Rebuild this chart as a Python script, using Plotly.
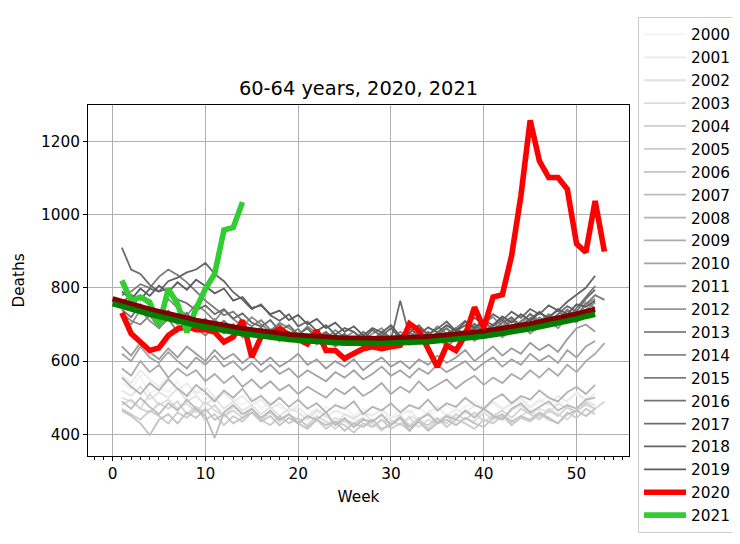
import plotly.graph_objects as go

TITLE = "60-64 years, 2020, 2021"
years_gray = list(range(2000, 2020))

d2000 = [540, 525, 560, 510, 530, 515, 545, 500, 520, 505, 490, 510, 495, 480, 500, 470, 490, 475, 460, 485, 470, 455, 475, 460, 480, 450, 470, 455, 465, 445, 470, 460, 475, 450, 465, 480, 460, 475, 490, 470, 485, 465, 480, 495, 470, 490, 505, 480, 495, 510, 490, 500]
d2001 = [560, 540, 575, 550, 530, 555, 520, 540, 510, 530, 500, 515, 490, 505, 480, 495, 470, 485, 460, 475, 450, 470, 445, 465, 455, 440, 460, 450, 470, 445, 455, 465, 440, 460, 475, 450, 470, 455, 480, 465, 490, 470, 485, 500, 475, 495, 480, 505, 490, 515, 495, 510]
d2002 = [520, 505, 530, 495, 515, 500, 525, 490, 505, 480, 500, 470, 490, 465, 480, 455, 475, 450, 470, 460, 440, 465, 450, 430, 455, 445, 460, 435, 450, 440, 425, 450, 440, 460, 435, 455, 445, 465, 450, 470, 455, 440, 465, 480, 455, 470, 460, 485, 470, 460, 490, 480]
d2003 = [500, 490, 470, 510, 480, 495, 470, 485, 460, 490, 465, 450, 475, 455, 470, 445, 460, 440, 455, 430, 450, 440, 425, 445, 435, 420, 440, 430, 410, 435, 425, 445, 420, 440, 430, 450, 425, 445, 435, 460, 440, 455, 430, 450, 465, 445, 470, 455, 440, 465, 480, 470]
d2004 = [480, 495, 470, 460, 485, 470, 490, 455, 475, 460, 480, 450, 465, 445, 470, 440, 460, 435, 455, 440, 425, 450, 435, 415, 440, 430, 445, 420, 440, 430, 450, 425, 445, 415, 440, 430, 455, 440, 460, 435, 450, 465, 445, 470, 455, 440, 465, 450, 475, 460, 485, 470, 489]
d2005 = [470, 455, 440, 465, 450, 430, 460, 445, 470, 440, 455, 425, 450, 435, 460, 440, 425, 450, 430, 445, 420, 440, 415, 435, 425, 405, 430, 420, 440, 415, 430, 410, 435, 425, 445, 420, 440, 430, 415, 440, 430, 450, 425, 445, 435, 455, 440, 430, 460, 445, 470, 455]
d2006 = [465, 450, 430, 398, 440, 455, 430, 460, 445, 470, 440, 455, 430, 445, 460, 435, 450, 425, 445, 430, 415, 440, 425, 435, 410, 430, 420, 440, 415, 425, 445, 420, 435, 410, 430, 440, 425, 445, 430, 420, 445, 455, 435, 450, 440, 460, 445, 430, 455, 465, 450, 470]
d2007 = [490, 470, 500, 475, 455, 485, 465, 495, 470, 450, 390, 460, 480, 455, 470, 445, 465, 440, 455, 430, 450, 440, 460, 425, 445, 420, 440, 435, 455, 425, 445, 410, 440, 455, 430, 450, 440, 465, 445, 470, 450, 440, 470, 485, 460, 475, 490, 465, 480, 470, 495, 500]
d2008 = [555, 530, 510, 540, 520, 550, 525, 505, 535, 515, 490, 520, 500, 525, 490, 505, 480, 500, 475, 495, 470, 485, 460, 480, 470, 490, 455, 475, 465, 485, 460, 480, 470, 495, 465, 485, 475, 500, 480, 470, 495, 510, 485, 505, 495, 520, 500, 490, 515, 530, 510, 535]
d2009 = [580, 560, 600, 570, 590, 555, 580, 560, 575, 545, 565, 540, 560, 530, 550, 525, 545, 520, 535, 510, 530, 515, 500, 525, 510, 530, 505, 520, 540, 510, 530, 515, 545, 520, 535, 550, 525, 545, 560, 535, 555, 540, 565, 550, 575, 555, 580, 560, 590, 570, 600, 620, 649]
d2010 = [620, 600, 640, 610, 595, 625, 600, 580, 610, 590, 615, 585, 600, 575, 595, 570, 590, 565, 580, 555, 575, 560, 545, 570, 555, 575, 550, 565, 585, 560, 575, 555, 580, 565, 590, 570, 585, 600, 575, 595, 610, 585, 605, 590, 620, 600, 615, 595, 630, 610, 640, 655]
d2011 = [640, 615, 650, 625, 605, 635, 610, 640, 620, 600, 630, 605, 620, 595, 615, 590, 610, 585, 600, 620, 590, 605, 580, 600, 585, 605, 575, 595, 610, 585, 600, 580, 605, 590, 615, 595, 610, 630, 600, 620, 640, 615, 635, 620, 650, 630, 645, 625, 660, 690, 700, 680]
d2012 = [720, 700, 740, 710, 690, 725, 700, 680, 710, 690, 715, 680, 700, 670, 690, 665, 685, 655, 675, 650, 670, 645, 665, 640, 660, 650, 670, 640, 655, 635, 660, 645, 670, 650, 665, 640, 660, 680, 655, 675, 690, 665, 685, 700, 675, 695, 710, 690, 720, 705, 740, 760]
d2013 = [760, 740, 780, 750, 730, 770, 745, 725, 755, 735, 710, 740, 715, 695, 720, 700, 680, 705, 690, 670, 695, 675, 660, 685, 665, 680, 655, 675, 690, 660, 680, 665, 690, 670, 695, 675, 690, 710, 685, 705, 720, 695, 715, 700, 730, 710, 725, 705, 740, 720, 755, 770]
d2014 = [730, 710, 700, 725, 690, 715, 680, 705, 690, 670, 695, 675, 700, 665, 690, 670, 685, 655, 680, 665, 650, 675, 655, 640, 665, 650, 670, 645, 660, 640, 665, 650, 675, 655, 670, 690, 660, 680, 700, 675, 695, 710, 685, 705, 690, 720, 700, 715, 740, 720, 760, 745]
d2015 = [780, 790, 810, 800, 830, 850, 835, 815, 790, 765, 745, 725, 735, 710, 695, 712, 685, 700, 672, 688, 660, 680, 655, 672, 648, 665, 640, 660, 676, 650, 670, 655, 682, 660, 678, 665, 690, 672, 695, 680, 700, 688, 710, 695, 718, 705, 728, 710, 738, 722, 755, 780, 767]
d2016 = [740, 720, 755, 730, 708, 738, 712, 732, 698, 716, 690, 710, 684, 700, 672, 692, 660, 682, 655, 672, 690, 660, 676, 648, 670, 655, 680, 660, 642, 668, 652, 678, 662, 645, 672, 690, 668, 684, 702, 680, 698, 715, 690, 708, 728, 702, 722, 738, 716, 745, 775, 805]
d2017 = [910, 850, 838, 808, 790, 798, 768, 758, 738, 752, 728, 742, 716, 730, 705, 694, 712, 682, 698, 672, 690, 665, 680, 658, 675, 648, 668, 652, 680, 660, 765, 668, 652, 680, 658, 675, 690, 668, 690, 710, 685, 705, 720, 695, 715, 735, 710, 728, 750, 735, 770, 795]
d2018 = [760, 780, 768, 798, 790, 818, 828, 842, 850, 868, 838, 818, 788, 768, 742, 755, 725, 710, 728, 695, 708, 682, 698, 672, 690, 680, 660, 685, 668, 690, 662, 678, 698, 672, 688, 708, 682, 698, 718, 702, 728, 712, 735, 718, 742, 728, 752, 738, 762, 780, 800, 833]
d2019 = [790, 768, 798, 778, 806, 788, 815, 795, 822, 805, 785, 798, 765, 775, 745, 752, 728, 738, 712, 726, 700, 715, 690, 705, 680, 695, 670, 690, 678, 698, 668, 688, 672, 692, 678, 698, 682, 708, 690, 712, 698, 722, 705, 728, 710, 732, 718, 742, 728, 755, 748, 765]

gray_data = [d2000, d2001, d2002, d2003, d2004, d2005, d2006, d2007, d2008, d2009,
             d2010, d2011, d2012, d2013, d2014, d2015, d2016, d2017, d2018, d2019]

d2020 = [732, 675, 652, 629, 636, 670, 688, 694, 686, 686, 679, 652, 666, 711, 611, 666, 675, 688, 672, 661, 647, 684, 629, 629, 607, 621, 634, 639, 634, 639, 643, 702, 684, 634, 584, 643, 629, 670, 747, 690, 775, 781, 888, 1051, 1257, 1146, 1101, 1101, 1069, 920, 897, 1037, 899]
d2021 = [820, 765, 775, 761, 697, 797, 756, 679, 743, 797, 838, 958, 965, 1034]

fit_weeks = list(range(0, 53))
fit_red = [770, 762, 755, 748, 741, 735, 728, 722, 717, 711, 706, 701, 697, 692, 688, 685, 681, 678, 675, 672, 670, 668, 666, 665, 663, 662, 662, 661, 661, 661, 662, 662, 663, 665, 666, 668, 670, 672, 675, 678, 681, 685, 688, 692, 697, 701, 706, 711, 717, 722, 728, 735, 741]
fit_green = [757, 749, 742, 735, 728, 722, 715, 709, 704, 698, 693, 688, 684, 679, 675, 672, 668, 665, 662, 659, 657, 655, 653, 652, 650, 649, 649, 648, 648, 648, 649, 649, 650, 652, 653, 655, 657, 659, 662, 665, 668, 672, 675, 679, 684, 688, 693, 698, 704, 709, 715, 722, 728]

fig = go.Figure()

for i, (yr, vals) in enumerate(zip(years_gray, gray_data)):
    lv = int(round(255 * (0.95 - i * 0.031)))
    col = f"rgb({lv},{lv},{lv})"
    fig.add_trace(go.Scatter(
        x=list(range(1, len(vals) + 1)), y=vals, mode="lines",
        line=dict(color=col, width=1.8), name=str(yr), legendgroup=str(yr)))

fig.add_trace(go.Scatter(x=list(range(1, len(d2020) + 1)), y=d2020, mode="lines",
                         line=dict(color="#ff0000", width=5.6), name="2020", legendgroup="2020"))
fig.add_trace(go.Scatter(x=list(range(1, len(d2021) + 1)), y=d2021, mode="lines",
                         line=dict(color="#32cd32", width=5.6), name="2021", legendgroup="2021"))
fig.add_trace(go.Scatter(x=fit_weeks, y=fit_red, mode="lines",
                         line=dict(color="#800000", width=5.6), showlegend=False))
fig.add_trace(go.Scatter(x=fit_weeks, y=fit_green, mode="lines",
                         line=dict(color="#008000", width=5.6), showlegend=False))

# page offset of 8 px (browser body margin) compensated in positions below
font = "DejaVu Sans"
FS = 15.3
W, H = 740, 544
L, T, R, B = 80, 97, 621, 448
fig.update_layout(
    width=W, height=H,
    margin=dict(l=L, r=W - R, t=T, b=H - B),
    paper_bgcolor="white", plot_bgcolor="white",
    font=dict(family=font, size=FS, color="black"),
    title=dict(text=TITLE, x=(L + R) / 2 / W, xref="container", xanchor="center",
               y=1 - 80 / H, yref="container", yanchor="middle",
               font=dict(size=19.4, family=font, color="black"), automargin=False),
    showlegend=True,
    legend=dict(x=630 / W, xref="container", xanchor="left",
                y=1 - 9 / H, yref="container", yanchor="top",
                bordercolor="#cccccc", borderwidth=1, bgcolor="white",
                font=dict(size=FS, family=font), traceorder="grouped",
                tracegroupgap=0, itemwidth=42, maxheight=1.0),
)
fig.update_xaxes(
    range=[-2.65, 55.65], tickmode="array", tickvals=[0, 10, 20, 30, 40, 50],
    ticks="outside", ticklen=4, tickcolor="black", showline=True, linecolor="black",
    linewidth=1, mirror=True, showgrid=True, gridcolor="#b0b0b0", gridwidth=1,
    zeroline=False, tickfont=dict(size=FS), automargin=False,
    minor=dict(dtick=1, tick0=0, ticks="outside", ticklen=2.5, tickcolor="black", showgrid=False),
    title=dict(text="Week", font=dict(size=FS), standoff=8),
)
fig.update_yaxes(
    range=[341, 1299], tickmode="array", tickvals=[400, 600, 800, 1000, 1200],
    ticks="outside", ticklen=4, tickcolor="black", showline=True, linecolor="black",
    linewidth=1, mirror=True, showgrid=True, gridcolor="#b0b0b0", gridwidth=1,
    zeroline=False, tickfont=dict(size=FS), automargin=False,
    title=dict(text="Deaths", font=dict(size=FS), standoff=12),
)

fig.write_html("out.html")
